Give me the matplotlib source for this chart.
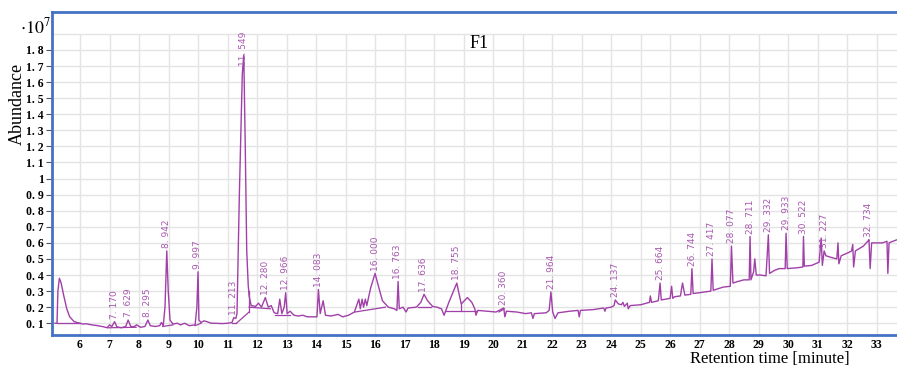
import matplotlib
matplotlib.use("Agg")
import matplotlib.pyplot as plt

plt.rcParams['mathtext.fontset'] = 'stix'

# chromatogram trace (time in minutes, abundance in 1e7)
times = [5.15, 5.22, 5.25, 5.30, 5.36, 5.45, 5.55, 5.65, 5.80, 6.00, 6.10, 6.20, 6.40, 6.60, 6.80, 6.92,
         7.00, 7.08, 7.17, 7.25, 7.40, 7.55, 7.63, 7.72, 7.82, 7.92, 8.05, 8.20, 8.30, 8.38, 8.55, 8.70,
         8.76, 8.82, 8.88, 8.94, 8.99, 9.05, 9.15, 9.30, 9.40, 9.55, 9.70, 9.90, 9.96, 10.00, 10.03, 10.10,
         10.20, 10.30, 10.45, 10.60, 10.80, 11.00, 11.15, 11.21, 11.28, 11.32, 11.40, 11.50, 11.55, 11.60,
         11.65, 11.70, 11.73, 11.80, 11.95, 12.05, 12.15, 12.28, 12.38, 12.48, 12.58, 12.70, 12.77, 12.84,
         12.92, 12.97, 13.02, 13.12, 13.25, 13.40, 13.55, 13.70, 13.90, 14.03, 14.08, 14.14, 14.24, 14.32,
         14.50, 14.75, 14.90, 15.10, 15.30, 15.45, 15.50, 15.56, 15.61, 15.67, 15.72, 15.85, 16.00, 16.10,
         16.25, 16.45, 16.65, 16.74, 16.78, 16.82, 16.95, 17.05, 17.12, 17.40, 17.55, 17.66, 17.78, 17.95,
         18.10, 18.25, 18.34, 18.50, 18.77, 18.92, 19.13, 19.28, 19.38, 19.42, 19.48, 19.80, 20.10, 20.36,
         20.40, 20.45, 20.80, 21.10, 21.30, 21.35, 21.40, 21.80, 21.90, 21.96, 22.02, 22.10, 22.20, 22.60,
         22.88, 22.92, 22.96, 23.40, 23.75, 23.79, 23.83, 24.00, 24.10, 24.14, 24.25, 24.35, 24.40, 24.45,
         24.55, 24.58, 24.65, 25.00, 25.30, 25.33, 25.37, 25.60, 25.66, 25.70, 26.00, 26.05, 26.09, 26.15,
         26.35, 26.42, 26.50, 26.70, 26.74, 26.78, 27.00, 27.38, 27.42, 27.46, 27.80, 28.04, 28.08, 28.13,
         28.30, 28.50, 28.68, 28.71, 28.74, 28.83, 28.87, 28.92, 29.05, 29.25, 29.33, 29.37, 29.55, 29.70,
         29.90, 29.93, 29.97, 30.30, 30.50, 30.52, 30.55, 30.80, 31.05, 31.12, 31.16, 31.22, 31.28, 31.45,
         31.65, 31.69, 31.72, 31.80, 32.05, 32.15, 32.19, 32.22, 32.28, 32.55, 32.70, 32.74, 32.78, 32.83,
         32.95, 33.05, 33.20, 33.35, 33.38, 33.42, 33.55, 33.70]
abundance = [0.10, 0.10, 0.30, 0.38, 0.35, 0.27, 0.19, 0.14, 0.11, 0.10, 0.095, 0.097, 0.09, 0.085, 0.078, 0.072,
             0.09, 0.08, 0.11, 0.078, 0.072, 0.08, 0.12, 0.08, 0.078, 0.09, 0.075, 0.08, 0.12, 0.085, 0.08, 0.085,
             0.105, 0.085, 0.20, 0.55, 0.30, 0.12, 0.095, 0.10, 0.09, 0.10, 0.085, 0.09, 0.20, 0.42, 0.12, 0.105,
             0.115, 0.11, 0.10, 0.10, 0.098, 0.10, 0.105, 0.135, 0.13, 0.16, 0.90, 1.65, 1.77, 1.20,
             0.55, 0.34, 0.27, 0.21, 0.205, 0.225, 0.20, 0.26, 0.20, 0.21, 0.165, 0.16, 0.25, 0.16,
             0.20, 0.29, 0.16, 0.175, 0.15, 0.145, 0.15, 0.14, 0.14, 0.14, 0.31, 0.16, 0.24, 0.15,
             0.145, 0.155, 0.14, 0.15, 0.17, 0.25, 0.19, 0.25, 0.20, 0.25, 0.21, 0.32, 0.41, 0.34,
             0.24, 0.20, 0.19, 0.18, 0.36, 0.19, 0.20, 0.17, 0.195, 0.20, 0.23, 0.28, 0.24, 0.205,
             0.20, 0.19, 0.15, 0.23, 0.35, 0.22, 0.26, 0.23, 0.19, 0.15, 0.18, 0.175, 0.17, 0.195,
             0.14, 0.175, 0.17, 0.16, 0.165, 0.13, 0.16, 0.165, 0.18, 0.295, 0.17, 0.13, 0.165, 0.175,
             0.18, 0.14, 0.18, 0.185, 0.195, 0.175, 0.195, 0.20, 0.21, 0.245, 0.22, 0.215, 0.23, 0.205,
             0.225, 0.19, 0.21, 0.215, 0.23, 0.27, 0.23, 0.24, 0.35, 0.245, 0.255, 0.33, 0.255, 0.265,
             0.27, 0.35, 0.275, 0.28, 0.44, 0.285, 0.29, 0.30, 0.50, 0.305, 0.325, 0.33, 0.58, 0.35,
             0.36, 0.37, 0.37, 0.64, 0.37, 0.42, 0.50, 0.40, 0.40, 0.395, 0.65, 0.41, 0.43, 0.44,
             0.44, 0.66, 0.44, 0.445, 0.45, 0.64, 0.455, 0.46, 0.48, 0.63, 0.46, 0.55, 0.52, 0.51,
             0.50, 0.60, 0.47, 0.52, 0.54, 0.55, 0.59, 0.45, 0.55, 0.58, 0.61, 0.62, 0.44, 0.60,
             0.60, 0.60, 0.60, 0.61, 0.41, 0.60, 0.61, 0.62]

# integration baselines: (t0, a0, t1, a1)
baselines = [(5.22, 0.10, 6.00, 0.10), (6.95, 0.072, 7.90, 0.075), (8.80, 0.08, 9.15, 0.09),
             (9.90, 0.085, 10.10, 0.10), (11.15, 0.10, 11.30, 0.10), (11.30, 0.10, 11.73, 0.17),
             (11.73, 0.17, 11.73, 0.30), (11.73, 0.20, 12.45, 0.19), (12.60, 0.15, 13.10, 0.15),
             (15.32, 0.17, 16.35, 0.20), (17.45, 0.20, 17.90, 0.20), (18.40, 0.175, 19.45, 0.175),
             (18.92, 0.175, 18.92, 0.22), (20.20, 0.17, 20.38, 0.19)]

# labelled peaks
peak_times = [7.170, 7.629, 8.295, 8.942, 9.997, 11.213, 11.549, 12.280, 12.966, 14.083, 16.000, 16.763,
              17.636, 18.755, 20.360, 21.964, 24.137, 25.664, 26.744, 27.417, 28.077, 28.711, 29.332,
              29.933, 30.522, 31.227, 32.734]
peak_labels = ["7. 170", "7. 629", "8. 295", "8. 942", "9. 997", "11. 213", "11. 549", "12. 280", "12. 966",
               "14. 083", "16. 000", "16. 763", "17. 636", "18. 755", "20. 360", "21. 964", "24. 137",
               "25. 664", "26. 744", "27. 417", "28. 077", "28. 711", "29. 332", "29. 933", "30. 522",
               "31. 227", "32. 734"]

x_ticks = list(range(6, 34))
y_ticks = [i / 10 for i in range(1, 19)]
y_tick_labels = ["1" if v == 1.0 else f"{v:.1f}".replace(".", ". ") for v in y_ticks]

line_color = '#a040a8'
label_color = '#a858b0'
frame_color = '#4472c4'
grid_color = '#e4e4e4'

fig = plt.figure(figsize=(8.97, 3.67), dpi=100)
ax = fig.add_axes([52 / 897, 32 / 367, 1 - 52 / 897, 323 / 367])
xmin, xmax = 5.05, 33.69
ymin, ymax = 0.027, 2.036
ax.set_xlim(xmin, xmax)
ax.set_ylim(ymin, ymax)

# grid
ax.vlines(x_ticks, ymin, 1.9, color=grid_color, lw=1, zorder=0)
ax.hlines(y_ticks + [1.9], xmin, xmax, color=grid_color, lw=1, zorder=0)

ax.plot(times, abundance, color=line_color, lw=1)
for t0, a0, t1, a1 in baselines:
    ax.plot([t0, t1], [a0, a1], color=line_color, lw=0.9)

# peak labels
for pt, lab in zip(peak_times, peak_labels):
    near = [a for t, a in zip(times, abundance) if abs(t - pt) < 0.06]
    h = max(near)
    off = -8 if h > 1.5 else 2
    ax.annotate(lab, (pt, h), xytext=(0, off), textcoords='offset points', rotation=90,
                ha='center', va='bottom', fontsize=6.5, color=label_color, family='DejaVu Sans')

ax.set_xticks(x_ticks)
ax.set_xticklabels([str(v) for v in x_ticks], fontweight='bold', family='Liberation Serif', fontsize=8.5)
ax.set_yticks(y_ticks)
ax.set_yticklabels(y_tick_labels, fontweight='bold', family='Liberation Serif', fontsize=8.5)
ax.tick_params(axis='x', length=0, pad=3)
ax.tick_params(axis='y', length=4, color='#555555', pad=2)

for side in ['top', 'left', 'bottom']:
    ax.spines[side].set_color(frame_color)
    ax.spines[side].set_linewidth(2)
ax.spines['right'].set_visible(False)

fig.text(17 / 897, 1 - 104 / 367, 'Abundance', rotation=90, family='Liberation Serif', fontsize=13,
         ha='center', va='center')
fig.text(36 / 897, 1 - 27 / 367, r'$\cdot10^7$', fontsize=13, ha='center', va='center')
fig.text(479 / 897, 1 - 43 / 367, 'F1', family='Liberation Serif', fontsize=13, ha='center', va='center')
fig.text(770 / 897, 1 - 359 / 367, 'Retention time [minute]', family='Liberation Serif', fontsize=12,
         ha='center', va='center')

fig.savefig('out.png', dpi=100)
